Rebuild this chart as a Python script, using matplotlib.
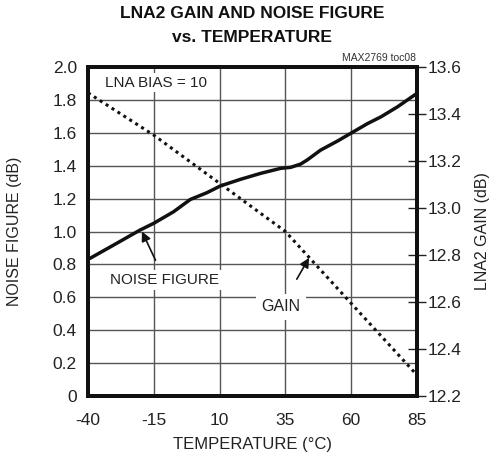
import matplotlib
matplotlib.use("Agg")
import matplotlib.pyplot as plt
import numpy as np

plt.rcParams['font.family'] = ['Liberation Sans', 'DejaVu Sans']

# Data
temp_nf = [-40, -30, -20.2, -15, -7.5, -1.1, 5.2, 10.3, 17.9, 25.5, 33.2, 37, 40.8,
           43.3, 48.4, 54.8, 60.5, 66.2, 71.3, 77.6, 85]
noise_figure = [0.83, 0.92, 1.009, 1.05, 1.12, 1.195, 1.236, 1.277, 1.317, 1.353, 1.384, 1.39, 1.41,
                1.435, 1.495, 1.55, 1.603, 1.656, 1.697, 1.758, 1.84]

temp_gain = [-40, -15, 10, 35, 60, 85]
gain = [13.49, 13.31, 13.105, 12.90, 12.594, 12.289]

x_ticks = [-40, -15, 10, 35, 60, 85]
y_left_ticks = [0, 0.2, 0.4, 0.6, 0.8, 1.0, 1.2, 1.4, 1.6, 1.8, 2.0]
y_left_labels = ['0', '0.2', '0.4', '0.6', '0.8', '1.0', '1.2', '1.4', '1.6', '1.8', '2.0']
y_right_ticks = [12.2, 12.4, 12.6, 12.8, 13.0, 13.2, 13.4, 13.6]

fig = plt.figure(figsize=(4.92, 4.57), dpi=100)
ax = fig.add_axes([88/492, 1-396/457, (417-88)/492, (396-67)/457])
ax2 = ax.twinx()

ax.set_xlim(-40, 85)
ax.set_ylim(0, 2.0)
ax2.set_ylim(12.2, 13.6)

ax.set_xticks(x_ticks)
ax.set_xticklabels([str(t) for t in x_ticks], fontsize=12.5, color='#222222')
ax.set_yticks(y_left_ticks)
ax.set_yticklabels(y_left_labels, fontsize=12.5, color='#222222')
ax.tick_params(axis='x', length=0, pad=12)
ax.tick_params(axis='y', length=0, pad=8)
ax2.set_yticks(y_right_ticks)
ax2.set_yticklabels([f'{v:.1f}' for v in y_right_ticks], fontsize=12.5, color='#222222')
ax2.tick_params(axis='y', direction='inout', length=13, width=1, pad=1, color='#222222')

ax.grid(True, color='#555555', linewidth=1.0)
ax.set_axisbelow(True)

for a in (ax, ax2):
    for s in a.spines.values():
        s.set_linewidth(2.8)
        s.set_color('#111111')

ax.plot(temp_nf, noise_figure, color='#111111', linewidth=2.5, zorder=3)
ax2.plot(temp_gain, gain, color='#111111', linewidth=2.2, linestyle=(0, (1, 1.3)), zorder=3)

ax.set_xlabel('TEMPERATURE (°C)', fontsize=12, labelpad=7, color='#222222')
ax.set_ylabel('NOISE FIGURE (dB)', fontsize=11.5, labelpad=22, color='#222222')
ax2.set_ylabel('LNA2 GAIN (dB)', fontsize=11.5, labelpad=10, color='#222222')

fig.text(252/492, 1-14/457, 'LNA2 GAIN AND NOISE FIGURE', ha='center', va='center',
         fontsize=12.5, fontweight='bold', color='#111111')
fig.text(252/492, 1-38/457, 'vs. TEMPERATURE', ha='center', va='center',
         fontsize=12.5, fontweight='bold', color='#111111')
fig.text(416/492, 1-58/457, 'MAX2769 toc08', ha='right', va='center', fontsize=7.5, color='#333333')

ax.text(-33.5, 1.905, 'LNA BIAS = 10', ha='left', va='center', fontsize=11, zorder=4, color='#222222',
        bbox=dict(facecolor='white', edgecolor='none', pad=2))

ax.annotate('NOISE FIGURE', xy=(-19.5, 1.0), xytext=(-10.8, 0.705), ha='center', va='center',
            fontsize=11, zorder=5, color='#222222',
            bbox=dict(facecolor='white', edgecolor='none', pad=2),
            arrowprops=dict(arrowstyle='-|>', color='#111111', lw=1.2, mutation_scale=14,
                            shrinkA=8, shrinkB=0))
ax.annotate('GAIN', xy=(44, 0.84), xytext=(33.3, 0.543), ha='center', va='center',
            fontsize=11.5, zorder=5, color='#222222',
            bbox=dict(facecolor='white', edgecolor='none', pad=4),
            arrowprops=dict(arrowstyle='-|>', color='#111111', lw=1.2, mutation_scale=14,
                            shrinkA=12, shrinkB=0))

fig.savefig('out.png', dpi=100)
